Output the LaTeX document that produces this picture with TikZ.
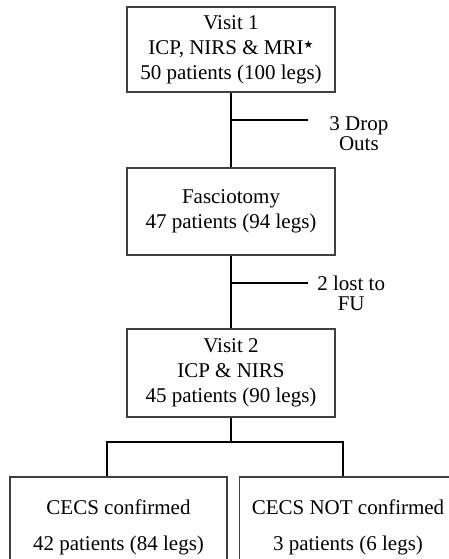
\documentclass[tikz,border=0pt]{standalone}
\usepackage{fontspec}
\setmainfont{Liberation Serif}
\newfontfamily\symfont{DejaVu Sans}
\newcommand{\smallstar}{\raisebox{0.55ex}{\symfont\fontsize{5.5}{5.5}\selectfont ★}}

\begin{document}
\begin{tikzpicture}[x=0.5pt, y=-0.5pt,
    box/.style={draw=black!75, line width=0.7pt, align=center, inner sep=0pt,
                minimum width=104pt, font=\fontsize{10.5}{12.5}\selectfont},
    link/.style={line width=0.8pt},
    side/.style={align=center, inner sep=0pt, font=\fontsize{10.5}{10}\selectfont}]
    \useasboundingbox (0,0) rectangle (449,559);

    % main column
    \node[box, minimum height=42.5pt] (visit1) at (231,49.5)
        {Visit 1\\ICP, NIRS \& MRI\smallstar\\50 patients (100 legs)};
    \node[box, minimum height=43.5pt] (fasc) at (231,211.5)
        {Fasciotomy\\47 patients (94 legs)};
    \node[box, minimum height=44pt] (visit2) at (231,373)
        {Visit 2\\ICP \& NIRS\\45 patients (90 legs)};

    % outcome boxes (cut by the page edge)
    \node[box, minimum width=108.5pt, minimum height=50pt,
          font=\fontsize{10.5}{18}\selectfont] (cecsyes) at (118.5,527)
        {CECS confirmed\\42 patients (84 legs)};
    \node[box, minimum width=108.5pt, minimum height=50pt,
          font=\fontsize{10.5}{18}\selectfont] (cecsno) at (348,527)
        {CECS NOT confirmed\\3 patients (6 legs)};

    % losses
    \coordinate (drop) at (308,120);
    \coordinate (lost) at (308,283);
    \node[side, anchor=west] (dropnote) at (329,134) {3 Drop\\Outs};
    \node[side, anchor=west] (lostnote) at (317,293) {2 lost to\\FU};

    \draw[link] (visit1.south) -- (fasc.north);
    \draw[link] (visit1.south |- drop) -- (drop);
    \draw[link] (fasc.south) -- (visit2.north);
    \draw[link] (fasc.south |- lost) -- (lost);

    % split
    \coordinate (split) at (231,442);
    \coordinate (lbranch) at (107,442);
    \coordinate (rbranch) at (343,442);
    \draw[link] (visit2.south) -- (split);
    \draw[link] (lbranch |- cecsyes.north) -- (lbranch) -- (rbranch) -- (rbranch |- cecsno.north);
\end{tikzpicture}
\end{document}
